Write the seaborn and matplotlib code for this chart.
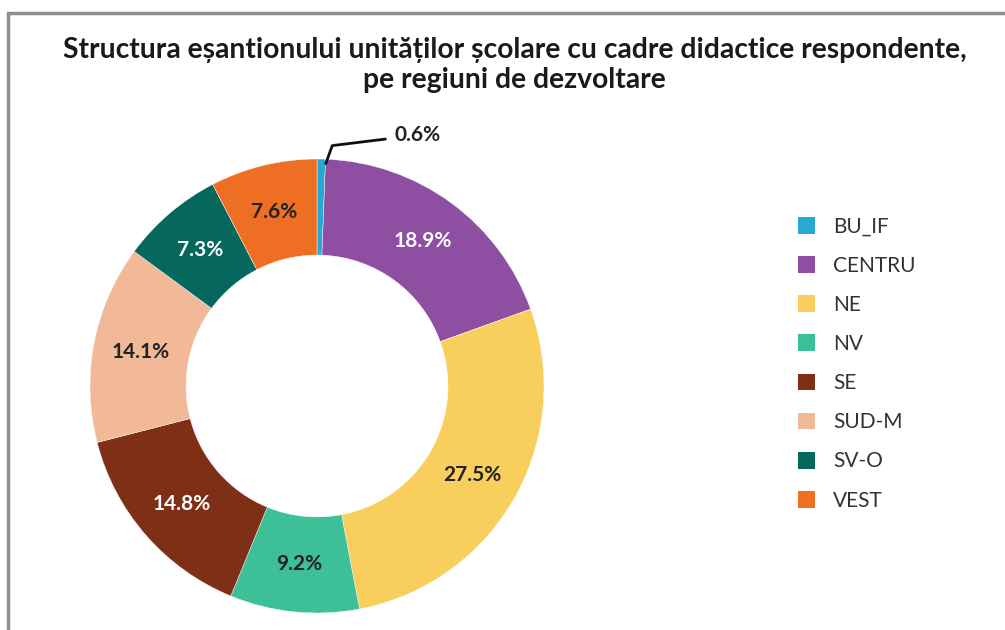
import numpy as np
import matplotlib
matplotlib.use("Agg")
import matplotlib.pyplot as plt
from matplotlib.patches import Rectangle, Patch
import seaborn as sns

regions = ["BU_IF", "CENTRU", "NE", "NV", "SE", "SUD-M", "SV-O", "VEST"]
shares = [0.6, 18.9, 27.5, 9.2, 14.8, 14.1, 7.3, 7.6]
colors = ["#29a8d1", "#8e4fa3", "#f8cf5d", "#3dbf97", "#7e2f15",
          "#f1b998", "#06675d", "#ee6f23"]
label_colors = ["#222222", "white", "#222222", "#222222", "white",
                "#222222", "white", "#222222"]

sns.set_theme(style="white")
plt.rcParams["font.family"] = ["Lato", "DejaVu Sans"]
palette = sns.color_palette(colors)

fig = plt.figure(figsize=(10.05, 6.3), dpi=100)
R = 227.0
half = 1.25 * R
ax = fig.add_axes([(317 - half) / 1005, (630 - 386 - half) / 630,
                   2 * half / 1005, 2 * half / 630])

wedges, _ = ax.pie(shares, colors=palette, startangle=90, counterclock=False,
                   radius=1.0,
                   wedgeprops=dict(width=0.423, edgecolor="white", linewidth=0.3))
ax.set_xlim(-1.25, 1.25)
ax.set_ylim(-1.25, 1.25)
ax.set_aspect("equal")
ax.axis("off")

# percentage labels inside the ring
for i, w in enumerate(wedges):
    if i == 0:
        continue
    mid = np.deg2rad((w.theta1 + w.theta2) / 2)
    r = 0.79
    ax.text(r * np.cos(mid), r * np.sin(mid), f"{shares[i]:.1f}%",
            ha="center", va="center", fontsize=15, fontweight="bold",
            color=label_colors[i])

# small slice label with leader line
w0 = wedges[0]
mid0 = np.deg2rad((w0.theta1 + w0.theta2) / 2)
ax.annotate(f"{shares[0]:.1f}%", xy=(0.98 * np.cos(mid0) + 0.02, 0.98 * np.sin(mid0)),
            xytext=(0.34, 1.105), ha="left", va="center",
            fontsize=15, fontweight="bold", color="#222222",
            arrowprops=dict(arrowstyle="-", color="#111111", lw=2,
                            connectionstyle="angle,angleA=7,angleB=70,rad=0",
                            shrinkA=4, shrinkB=0),
            annotation_clip=False)

handles = [Patch(facecolor=c, edgecolor="none") for c in palette]
fig.legend(handles, regions, loc="center left", bbox_to_anchor=(0.775, 0.423),
           frameon=False, fontsize=15, handlelength=0.85, handleheight=0.85,
           handletextpad=0.85, labelspacing=0.92, labelcolor="#333333")

fig.text(0.512, 0.897,
         "Structura eșantionului unităților școlare cu cadre didactice respondente,\npe regiuni de dezvoltare",
         ha="center", va="center", fontsize=20.3, fontweight="bold",
         family=["Lato", "DejaVu Sans"], linespacing=1.2,
         color="#1a1a1a")

fig.add_artist(Rectangle((0.008, -0.5), 2.0, 0.979 + 0.5, transform=fig.transFigure,
                         fill=False, edgecolor="#8f8f8f", linewidth=2.5))

fig.savefig("out.png", dpi=100)
